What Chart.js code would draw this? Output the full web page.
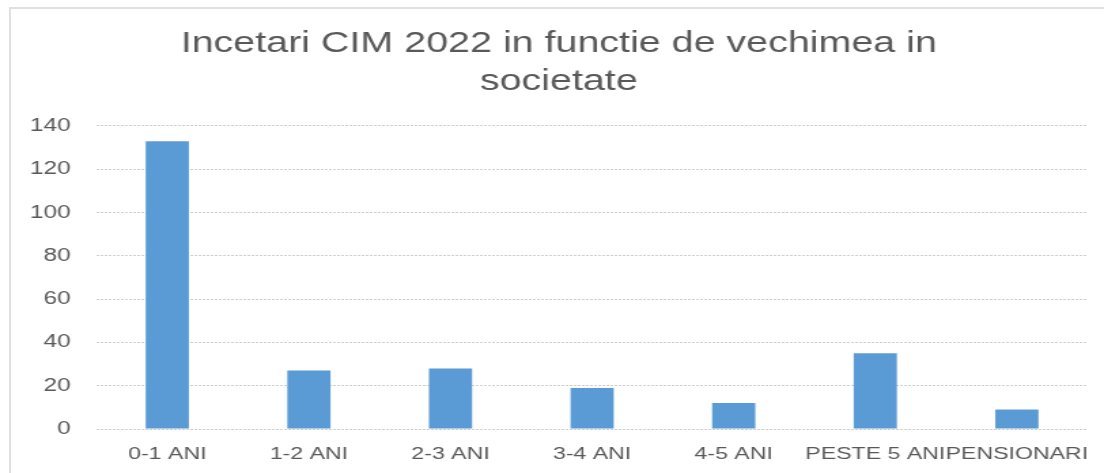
<!DOCTYPE html>
<html>
<head>
<meta charset="utf-8">
<script src="https://cdn.jsdelivr.net/npm/chart.js@4/dist/chart.umd.min.js"></script>
<style>
  html, body { margin: 0; padding: 0; background: #ffffff; }
  body { width: 1104px; height: 473px; position: relative; overflow: hidden; }
  #frame { position: absolute; left: 9px; top: 7px; width: 1200px; height: 600px;
           border-left: 2px solid #e0e0e0; border-top: 2px solid #e0e0e0; }
  #c { position: absolute; left: 0; top: 0; width: 1104px; height: 473px; }
</style>
</head>
<body>
<div id="frame"></div>
<canvas id="c" width="812" height="473" style="width:1104px;height:473px;"></canvas>
<script>
const titleLines = ['Incetari CIM 2022 in functie de vechimea in', 'societate'];
const categories = ['0-1 ANI', '1-2 ANI', '2-3 ANI', '3-4 ANI', '4-5 ANI', 'PESTE 5 ANI', 'PENSIONARI'];
const values = [133, 27, 28, 19, 12, 35, 9];
const yTicks = [0, 20, 40, 60, 80, 100, 120, 140];

const ctx = document.getElementById('c').getContext('2d');
new Chart(ctx, {
  type: 'bar',
  data: {
    labels: categories,
    datasets: [{
      data: values,
      backgroundColor: '#5B9BD5',
      borderWidth: 0,
      categoryPercentage: 1.0,
      barPercentage: 0.305
    }]
  },
  options: {
    responsive: false,
    maintainAspectRatio: false,
    animation: false,
    devicePixelRatio: 1,
    layout: { padding: { left: 22, right: 12, top: 25, bottom: 8 } },
    plugins: {
      legend: { display: false },
      tooltip: { enabled: false },
      title: {
        display: true,
        text: titleLines,
        color: '#595959',
        font: { family: "'Liberation Sans', Arial, sans-serif", size: 29, weight: 'normal', lineHeight: 1.31 },
        padding: { top: 0, bottom: 25 }
      }
    },
    scales: {
      x: {
        grid: { display: false, drawTicks: false },
        border: { display: false },
        afterFit: (s) => { s.height = 36; s.paddingLeft = 0; s.paddingRight = 0; },
        ticks: {
          color: '#595959',
          font: { family: "'Liberation Sans', Arial, sans-serif", size: 17 },
          padding: 15,
          maxRotation: 0,
          minRotation: 0,
          autoSkip: false
        }
      },
      y: {
        min: 0,
        max: 140,
        afterBuildTicks: (axis) => { axis.ticks = yTicks.map(v => ({ value: v })); },
        afterFit: (s) => { s.width = 49; s.paddingTop = 0; s.paddingBottom = 0; },
        grid: { color: '#cfcfcf', drawTicks: false, lineWidth: 1 },
        border: { display: false, dash: [2, 1] },
        ticks: {
          color: '#595959',
          font: { family: "'Liberation Sans', Arial, sans-serif", size: 18 },
          padding: 19
        }
      }
    }
  }
});
</script>
</body>
</html>
